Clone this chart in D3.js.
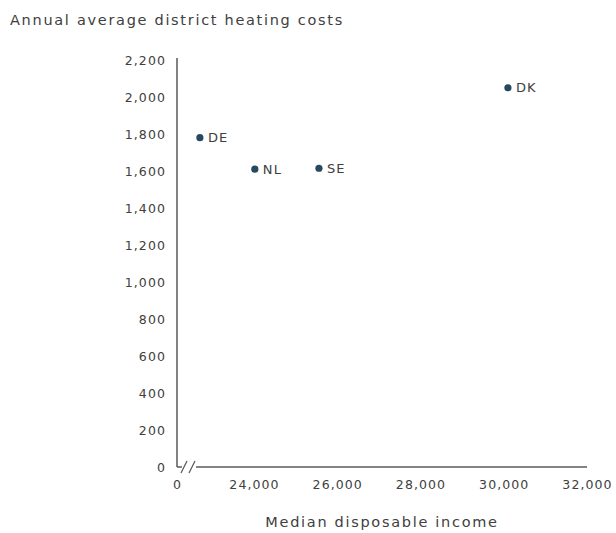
<!DOCTYPE html>
<html>
<head>
<meta charset="utf-8">
<script src="https://cdn.jsdelivr.net/npm/d3@7"></script>
<style>
  body { margin: 0; background: #fff; }
  svg text { font-family: "DejaVu Sans", sans-serif; fill: #404040; letter-spacing: 1.1px; }
  svg text.title { letter-spacing: 1.7px; }
</style>
</head>
<body>
<svg id="chart" width="616" height="533"></svg>
<script>
const countries = ["DE", "NL", "SE", "DK"];
const incomes = [22700, 24020, 25560, 30100];
const heatingCosts = [1780, 1610, 1615, 2050];
const xTickValues = [24000, 26000, 28000, 30000, 32000];
const yTickValues = [0, 200, 400, 600, 800, 1000, 1200, 1400, 1600, 1800, 2000, 2200];
const xAxisStart = 22150;

const svg = d3.select("#chart");
const x = d3.scaleLinear().domain([xAxisStart, 32000]).range([177, 587]);
const y = d3.scaleLinear().domain([0, 2200]).range([467, 60]);
const fmt = d3.format(",");
const axisColor = "#595959";
const fontFam = '"DejaVu Sans", sans-serif';

// Titles
svg.append("text").attr("class", "title").attr("x", 10).attr("y", 25).attr("font-size", 14.5).text("Annual average district heating costs");
svg.append("text").attr("class", "title").attr("x", 382).attr("y", 527).attr("text-anchor", "middle").attr("font-size", 14.5).text("Median disposable income");

// Y axis
const yAxis = svg.append("g").attr("transform", `translate(${x(xAxisStart)},0)`)
  .call(d3.axisLeft(y).tickValues(yTickValues).tickSize(0).tickPadding(11).tickFormat(fmt));
yAxis.select(".domain").remove();
yAxis.selectAll("text").attr("font-size", 12.5).style("font-family", fontFam).attr("fill", "#404040");
svg.append("line").attr("x1", x(xAxisStart)).attr("x2", x(xAxisStart)).attr("y1", y(2200) - 2).attr("y2", y(0))
  .attr("stroke", axisColor).attr("stroke-width", 1.5);

// X axis
const xAxis = svg.append("g").attr("transform", `translate(0,${y(0)})`)
  .call(d3.axisBottom(x).tickValues([xAxisStart].concat(xTickValues)).tickSize(0).tickPadding(13)
    .tickFormat(d => d === xAxisStart ? "0" : fmt(d)));
xAxis.select(".domain").remove();
xAxis.selectAll("text").attr("font-size", 12.5).style("font-family", fontFam).attr("fill", "#404040");

const x0 = x(xAxisStart), y0 = y(0);
svg.append("line").attr("x1", x0).attr("x2", x0 + 5).attr("y1", y0).attr("y2", y0).attr("stroke", axisColor).attr("stroke-width", 1.5);
svg.append("line").attr("x1", x0 + 19).attr("x2", x(32000)).attr("y1", y0).attr("y2", y0).attr("stroke", axisColor).attr("stroke-width", 1.5);
[[x0 + 4, x0 + 10], [x0 + 12, x0 + 18]].forEach(([a, b]) => {
  svg.append("line").attr("x1", a).attr("y1", y0 + 6).attr("x2", b).attr("y2", y0 - 6)
    .attr("stroke", axisColor).attr("stroke-width", 1.3);
});

// Points
const data = countries.map((c, i) => ({ c, x: incomes[i], y: heatingCosts[i] }));
const g = svg.append("g");
g.selectAll("circle").data(data).enter().append("circle")
  .attr("cx", d => x(d.x)).attr("cy", d => y(d.y)).attr("r", 3.6).attr("fill", "#27495f");
g.selectAll("text.lbl").data(data).enter().append("text").attr("class", "lbl")
  .attr("x", d => x(d.x) + 8).attr("y", d => y(d.y)).attr("dy", "0.36em")
  .attr("font-size", 13).text(d => d.c);
</script>
</body>
</html>
